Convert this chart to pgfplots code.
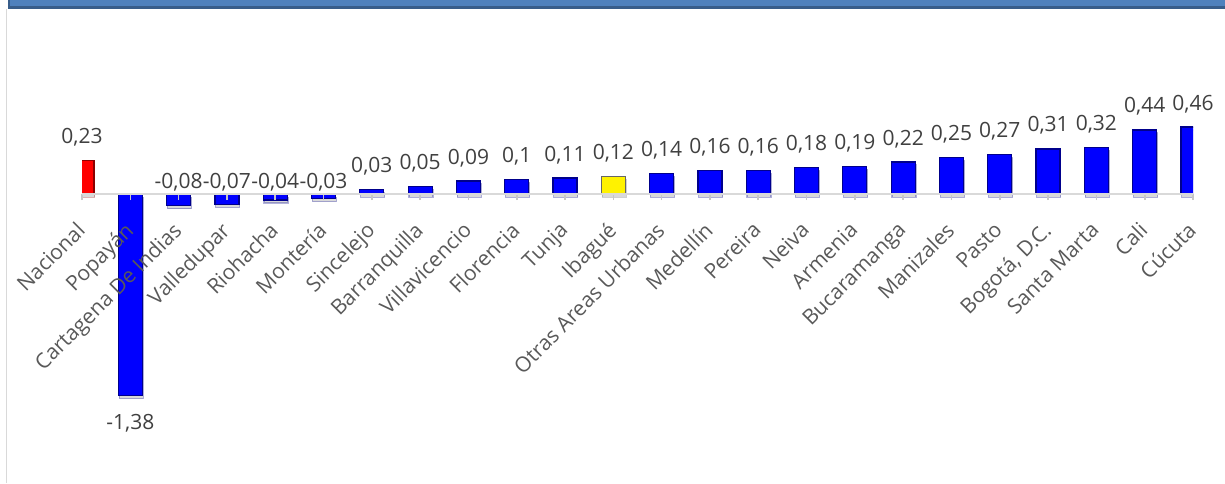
\documentclass[border=0pt]{standalone}
\usepackage{fontspec}
\setmainfont{Open Sans}
\usepackage{pgfplots}
\usepackage{pgfplotstable}
\pgfplotsset{compat=1.18}
\usetikzlibrary{shadows}

\definecolor{hdr}{HTML}{4F81BD}
\definecolor{hdrdark}{HTML}{385D8A}
\definecolor{txt}{HTML}{404040}
\definecolor{cat}{HTML}{595959}
\definecolor{linegray}{HTML}{D9D9D9}
\definecolor{barblue}{HTML}{0000FF}
\definecolor{baredge}{HTML}{00008C}
\newcommand\lbl{\fontsize{10.5}{13}\selectfont}

% value labels: x, y position of the label, text
\pgfplotstableread{
x  ly      t
0  0.23    0,23
2  -0.075  -0,08
3  -0.075  -0,07
4  -0.075  -0,04
5  -0.075  -0,03
6  0.03    0,03
7  0.05    0,05
8  0.09    0,09
9  0.10    0,1
10 0.11    0,11
11 0.12    0,12
12 0.14    0,14
13 0.16    0,16
14 0.16    0,16
15 0.18    0,18
16 0.19    0,19
17 0.22    0,22
18 0.25    0,25
19 0.27    0,27
20 0.31    0,31
21 0.32    0,32
22 0.44    0,44
23 0.46    0,46
}\labels

\begin{document}
\begin{tikzpicture}
% header band and left frame line
\fill[hdr] (4pt,238.5pt) rectangle (612.5pt,241.5pt);
\fill[hdrdark] (4pt,237pt) rectangle (612.5pt,238.5pt);
\fill[hdrdark] (4pt,237pt) rectangle (5pt,241.5pt);
\draw[linegray, line width=0.8pt] (3.25pt,0pt) -- (3.25pt,237pt);

\begin{axis}[
  axis on top,
  at={(41pt,27.7pt)}, anchor=south west,
  scale only axis, width=555.5pt, height=160.5pt,
  xmin=0, xmax=23, ymin=-1.6, ymax=0.6,
  axis x line=middle, axis y line=none,
  axis line style={-, draw=linegray, line width=1.25pt},
  clip mode=individual,
  xtick={0,...,23}, ytick=\empty,
  tick align=outside, major tick length=3pt,
  tick style={draw=gray!45, line width=0.8pt},
  xticklabels={Nacional, Popayán, Cartagena De Indias, Valledupar, Riohacha,
    Montería, Sincelejo, Barranquilla, Villavicencio, Florencia, Tunja, Ibagué,
    Otras Areas Urbanas, Medellín, Pereira, Neiva, Armenia, Bucaramanga,
    Manizales, Pasto, {Bogotá, D.C.}, Santa Marta, Cali, Cúcuta},
  xticklabel style={font=\lbl, text=cat, xshift=-3.5pt, yshift=-10pt,
    rotate=45, anchor=north east, inner sep=0pt},
  bars/.style={ybar, bar width=12pt, /pgf/bar shift=0pt, line width=0.6pt,
    drop shadow={shadow xshift=0.4pt, shadow yshift=-1.5pt, opacity=0.3}},
  vals/.style={only marks, mark=none, nodes near coords,
    point meta=explicit symbolic,
    nodes near coords style={font=\lbl, text=txt, anchor=south, yshift=3.6pt}},
]
\addplot[bars, fill=red, draw=red!55!black] coordinates {(0,0.23)};
\addplot[bars, fill=barblue, draw=baredge] coordinates {
  (1,-1.38) (2,-0.08) (3,-0.07) (4,-0.04) (5,-0.03) (6,0.03) (7,0.05)
  (8,0.09) (9,0.10) (10,0.11) (12,0.14) (13,0.16) (14,0.16) (15,0.18)
  (16,0.19) (17,0.22) (18,0.25) (19,0.27) (20,0.31) (21,0.32) (22,0.44)
  (23,0.46)};
\addplot[bars, fill=yellow, draw=black!60] coordinates {(11,0.12)};

\addplot[vals] table[x=x, y=ly, meta=t] {\labels};
\addplot[only marks, mark=none, nodes near coords, point meta=explicit symbolic,
  nodes near coords style={font=\lbl, text=txt, anchor=north, yshift=-6pt}]
  coordinates {(1,-1.38) [-1,38]};
\end{axis}
\pgfresetboundingbox
\useasboundingbox (0pt,0pt) rectangle (612.5pt,241.5pt);
\end{tikzpicture}
\end{document}
